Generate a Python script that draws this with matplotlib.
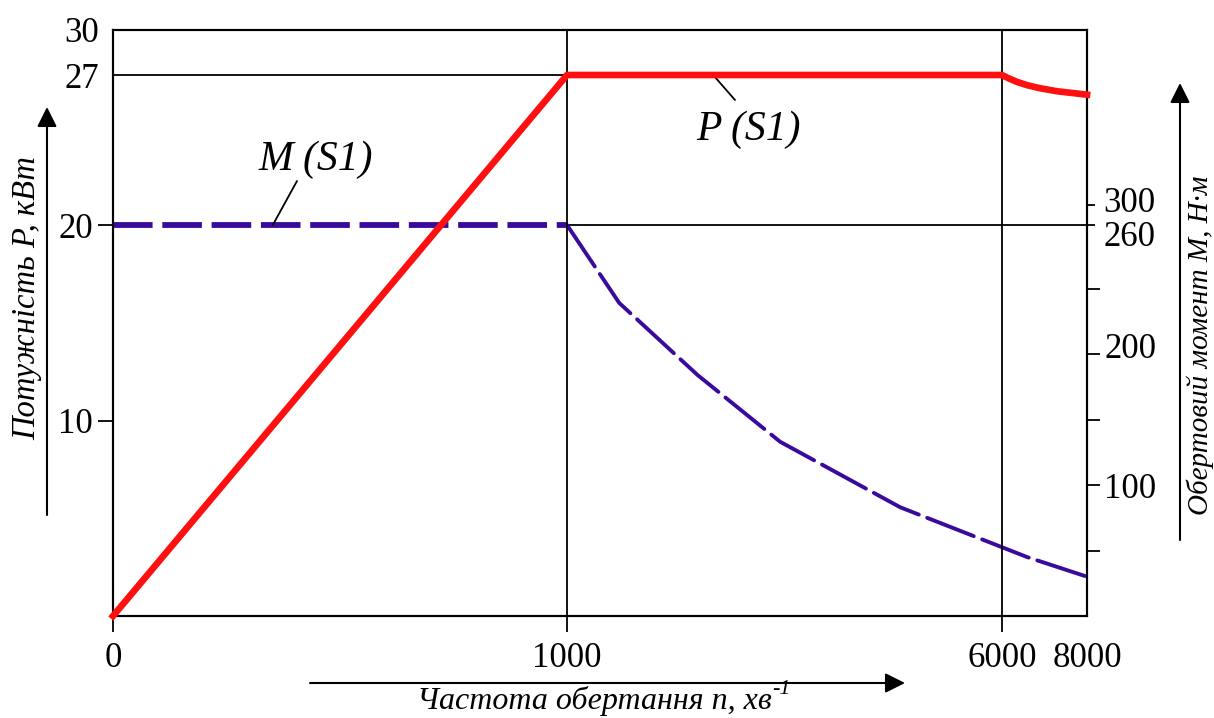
import numpy as np
import matplotlib
matplotlib.use("Agg")
import matplotlib.pyplot as plt
from matplotlib.patches import FancyArrowPatch
from matplotlib.transforms import ScaledTranslation

plt.rcParams['font.family'] = ['Liberation Serif', 'DejaVu Serif']
plt.rcParams['lines.scale_dashes'] = False

# ---------------- data ----------------
n_power = [0, 1000, 6000, 6150, 6350, 6600, 6900, 7300, 7700, 8000]
p_power = [0, 27, 27, 26.85, 26.68, 26.52, 26.38, 26.24, 26.15, 26.08]

n_torque_const = [0, 1000]
m_torque_const = [260, 260]
n_torque_fall = [1000, 1600, 2500, 3450, 4830, 6590, 8000]
m_torque_fall = [260, 239, 184, 133, 83, 45, 30]

x_ticks = [0, 1000, 6000]
x_extra = [8000]
p_ticks = [10, 20]
p_extra = [27, 30]
m_ticks = [50, 100, 150, 200, 250]
m_tick_labels = ['', '100', '', '200', '']
m_extra = [260, 300]

# piecewise (non-uniform) axis scales as drawn in the original
x_knots = ([0, 1000, 6000, 8000], [0, 454, 889, 974])
p_knots = ([0, 20, 27, 30], [0, 391, 541, 586])
m_knots = ([0, 250, 260, 300, 650], [0, 327.5, 391, 411, 586])


def make_funcs(knots):
    d, s = np.array(knots[0], float), np.array(knots[1], float)
    def fwd(v):
        return np.interp(v, d, s)
    def inv(v):
        return np.interp(v, s, d)
    return fwd, inv


W, H = 1214, 718
fig = plt.figure(figsize=(W / 100, H / 100), dpi=100)
ax = fig.add_axes([113 / W, (H - 616) / H, 974 / W, 586 / H])
ax2 = ax.twinx()

ax.set_xscale('function', functions=make_funcs(x_knots))
ax.set_yscale('function', functions=make_funcs(p_knots))
ax2.set_yscale('function', functions=make_funcs(m_knots))
ax.set_xlim(0, 8000)
ax.set_ylim(0, 30)
ax2.set_ylim(0, 650)

for a in (ax, ax2):
    for sp in a.spines.values():
        sp.set_linewidth(1.5)
    a.patch.set_visible(False)
ax.set_zorder(2)

# guide lines
ax.hlines(p_power[1], n_power[0], n_power[1], color='black', lw=1.3, zorder=1)
ax2.hlines(m_torque_const[0], n_power[1], n_power[-1], color='black', lw=1.3, zorder=1)
for xv in x_ticks[1:]:
    ax.axvline(xv, color='black', lw=1.3, zorder=1)

# torque curve (dashed)
ax2.plot(n_torque_const, m_torque_const, color='#3a0a9c', lw=4.2,
         dashes=(28.5, 7), solid_capstyle='butt', dash_capstyle='butt', zorder=3)
ax2.plot(n_torque_fall, m_torque_fall, color='#3a0a9c', lw=2.8,
         dashes=(36, 6.5), dash_capstyle='round', zorder=3)

# power curve
ax.plot(n_power, p_power, color='#ff1010', lw=4.8, solid_joinstyle='round', zorder=4,
        clip_on=False)

font_tick = dict(family='Liberation Serif', size=25)

# x ticks
ax.set_xticks(x_ticks)
ax.set_xticklabels([str(v) for v in x_ticks], fontdict=font_tick)
ax.set_xticks(x_extra, minor=True)
ax.set_xticklabels([str(v) for v in x_extra], minor=True, fontdict=font_tick)
ax.tick_params(axis='x', which='major', length=11.5, width=1.3, pad=7)
ax.tick_params(axis='x', which='minor', length=0, pad=18.5)

# left y ticks
ax.set_yticks(p_ticks)
ax.set_yticklabels([str(v) for v in p_ticks], fontdict=font_tick)
ax.set_yticks(p_extra, minor=True)
ax.set_yticklabels([str(v) for v in p_extra], minor=True, fontdict=font_tick)
ax.tick_params(axis='y', which='major', length=10.5, width=1.3, pad=4)
ax.tick_params(axis='y', which='minor', length=0, pad=10)

# right y ticks
ax2.set_yticks(m_ticks)
ax2.set_yticklabels(m_tick_labels, fontdict=font_tick)
ax2.set_yticks(m_extra, minor=True)
ax2.set_yticklabels([str(v) for v in m_extra], minor=True, fontdict=font_tick)
ax2.tick_params(axis='y', which='major', length=9.5, width=1.3, pad=3)
ax2.tick_params(axis='y', which='minor', length=6, width=1.3, pad=6)


# small vertical shifts of right-hand labels as in the original drawing (pixels)
def shift(label, dy_px):
    label.set_transform(label.get_transform() +
                        ScaledTranslation(0, dy_px / 100, fig.dpi_scale_trans))


for t, dy in zip(ax2.yaxis.get_minor_ticks(), [-8, 5]):
    shift(t.label2, dy)
for t, dy in zip(ax2.yaxis.get_major_ticks(), [0, 0, 0, 9, 0]):
    shift(t.label2, dy)


def fx(px):
    return px / W


def fy(py):
    return 1 - py / H


tf = fig.transFigure
lab = dict(family='Liberation Serif', style='italic')

# axis titles
fig.text(fx(27), fy(298), 'Потужність P, кВт', rotation=90, ha='center', va='center',
         fontsize=23.5, **lab)
fig.text(fx(1200), fy(345), 'Обертовий момент M, Н·м', rotation=90, ha='center',
         va='center', fontsize=21, **lab)
xl = fig.text(fx(594), fy(701), 'Частота обертання n, хв', ha='center',
              va='center', fontsize=23, **lab)
renderer = fig.canvas.get_renderer()
bb = xl.get_window_extent(renderer=renderer)
fig.text(bb.x1 / W + 1 / W, fy(689), '-1', ha='left', va='center', fontsize=16, **lab)

# axis arrows
arrow_kw = dict(arrowstyle='-|>', mutation_scale=30, lw=1.5, color='black',
                shrinkA=0, shrinkB=0, transform=tf)
fig.add_artist(FancyArrowPatch((fx(47), fy(515)), (fx(47), fy(107)), **arrow_kw))
fig.add_artist(FancyArrowPatch((fx(1180), fy(540)), (fx(1180), fy(83)), **arrow_kw))
fig.add_artist(FancyArrowPatch((fx(310), fy(683)), (fx(905), fy(683)), **arrow_kw))

# curve labels with leader lines
fig.text(fx(748), fy(130), 'P (S1)', ha='center', va='center', fontsize=30, **lab)
fig.text(fx(316), fy(160), 'M (S1)', ha='center', va='center', fontsize=30, **lab)
ax.annotate('', xy=(2680, p_power[1]), xycoords='data',
            xytext=(fx(735), fy(100)), textcoords='figure fraction',
            arrowprops=dict(arrowstyle='-', lw=1.3, color='black', shrinkA=0, shrinkB=0))
ax2.annotate('', xy=(352, m_torque_const[0]), xycoords='data',
             xytext=(fx(297), fy(181)), textcoords='figure fraction',
             arrowprops=dict(arrowstyle='-', lw=1.3, color='black', shrinkA=0, shrinkB=0))

fig.savefig('out.png', dpi=100)
